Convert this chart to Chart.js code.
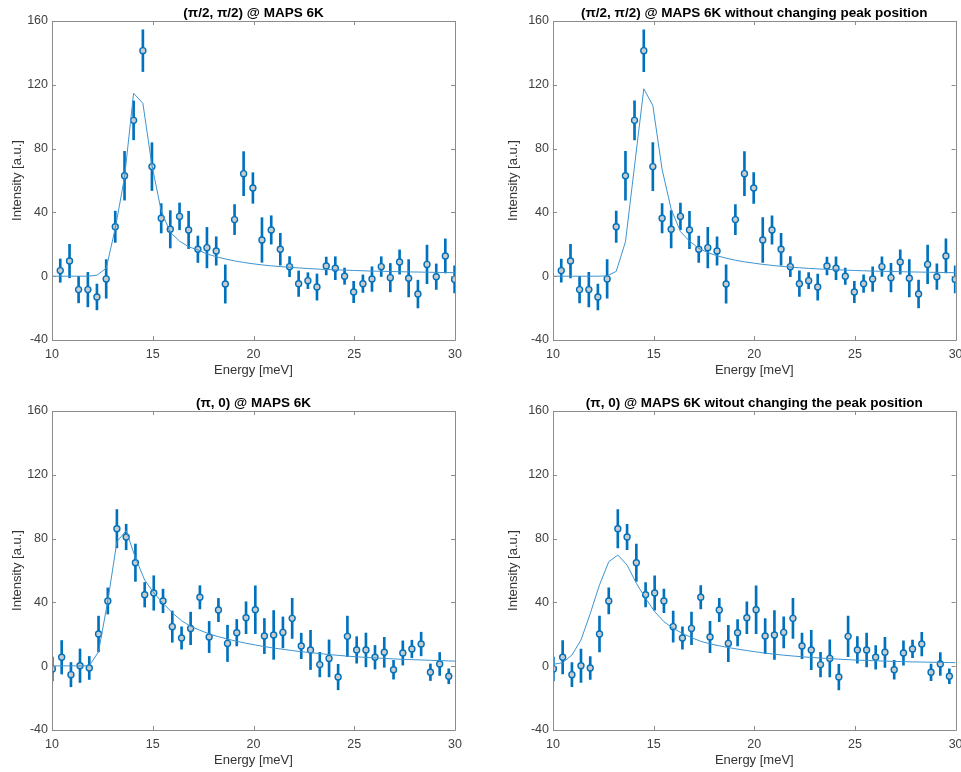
<!DOCTYPE html>
<html>
<head>
<meta charset="utf-8">
<script src="https://cdn.jsdelivr.net/npm/chart.js@4.4.1/dist/chart.umd.min.js"></script>
<style>
  body { margin: 0; background: #fff; width: 961px; height: 772px; position: relative; overflow: hidden; }
  canvas { position: absolute; }
</style>
</head>
<body>
<canvas id="chartA" width="480" height="390" style="left:0px;top:0px"></canvas>
<canvas id="chartB" width="471" height="390" style="left:490px;top:0px"></canvas>
<canvas id="chartC" width="480" height="382" style="left:0px;top:390px"></canvas>
<canvas id="chartD" width="471" height="382" style="left:490px;top:390px"></canvas>
<script>
// measured points, (pi/2, pi/2) cut
const energyTop = [10.41, 10.87, 11.32, 11.78, 12.23, 12.69, 13.14, 13.60, 14.05, 14.51, 14.96, 15.42, 15.87, 16.33, 16.78,
  17.24, 17.69, 18.15, 18.60, 19.06, 19.51, 19.97, 20.42, 20.88, 21.33, 21.79, 22.24, 22.70, 23.15, 23.61, 24.06, 24.52,
  24.97, 25.43, 25.88, 26.34, 26.79, 27.25, 27.70, 28.16, 28.61, 29.07, 29.52, 29.98];
const intensityNodal = [3.5, 9.5, -8.4, -8.4, -13, -1.7, 31, 63, 97.7, 141.4, 68.7, 36.3, 29.4, 37.5, 29,
  16.9, 17.9, 15.8, -4.9, 35.5, 64.3, 55.3, 22.7, 29, 16.9, 6, -4.7, -2.8, -6.8, 6.4, 5, 0,
  -9.9, -4.7, -1.8, 6, -0.9, 8.9, -1.3, -11.2, 7.4, -0.3, 12.7, -2];
const errNodal = [7.3, 10.5, 8.3, 10.8, 8.1, 12.1, 9.8, 15.3, 12.2, 13.1, 15, 9.2, 11.7, 8.4, 11.7,
  8.3, 12.7, 8.9, 12, 9.4, 13.8, 9.6, 14, 8.9, 10, 6.3, 8, 5, 8.2, 5.6, 7.2, 5.1,
  6.7, 5.5, 7.7, 6.2, 8.9, 7.6, 11.7, 8.7, 12.1, 8, 10.7, 8.5];

// measured points, (pi, 0) cut
const energyBottom = [10.02, 10.48, 10.94, 11.39, 11.85, 12.31, 12.77, 13.22, 13.68, 14.14, 14.60, 15.05, 15.51, 15.97, 16.43,
  16.88, 17.34, 17.80, 18.26, 18.71, 19.17, 19.63, 20.09, 20.54, 21.00, 21.46, 21.92, 22.37, 22.83, 23.29, 23.75, 24.20,
  24.66, 25.12, 25.58, 26.03, 26.49, 26.95, 27.41, 27.86, 28.32, 28.78, 29.24, 29.69];
const intensityAntinodal = [-1.8, 5.6, -5.3, 0.3, -1.1, 20.2, 40.9, 86.2, 81, 64.9, 44.8, 45.9, 40.9, 24.8, 17.7,
  23.7, 43.2, 18.3, 35.2, 14.3, 21, 30.4, 35.4, 18.9, 19.6, 21.2, 30, 12.7, 10.2, 1, 4.9, -6.8,
  18.7, 10.2, 10.2, 5.6, 8.7, -2.2, 8.3, 10.8, 13.9, -3.8, 1.4, -6.3];
const errAntinodal = [7.5, 10.5, 7.6, 10.5, 7.2, 11.2, 8.2, 12, 8, 11.7, 7.7, 10.8, 7.4, 9.8, 7,
  10.2, 7.3, 9.8, 7.3, 11.4, 8.3, 10, 15, 11, 15.3, 9.7, 12.6, 8, 12.3, 7.7, 11.6, 8,
  12.7, 8.3, 10.6, 7.4, 9.4, 5.9, 7.6, 5.5, 7.4, 5.2, 7.2, 4.7];

// fitted curves
const fitEnergyTop = [10, 10.41, 10.87, 11.32, 11.78, 12.23, 12.69, 13.14, 13.60, 14.05, 14.51, 14.96, 15.42, 15.87, 16.33, 16.78,
  17.24, 17.69, 18.15, 18.60, 19.06, 19.51, 19.97, 20.42, 20.88, 21.33, 21.79, 22.24, 22.70, 23.15, 23.61, 24.06, 24.52,
  24.97, 25.43, 25.88, 26.34, 26.79, 27.25, 27.70, 28.16, 28.61, 29.07, 29.52, 29.98];
const fitNodal = [0, 0, 0, 0, 0, 0.6, 5, 30, 62, 114.7, 108.4, 69.5, 41, 27.5, 22, 18.5,
  16.4, 14, 12.2, 10.8, 9.6, 8.6, 7.8, 7.1, 6.5, 6, 5.6, 5.2, 4.8, 4.5, 4.2, 4, 3.8,
  3.6, 3.4, 3.2, 3.1, 2.95, 2.8, 2.7, 2.6, 2.5, 2.4, 2.3, 2.2];
const fitNodalFixed = [0, 0, 0, 0, 0, 0, 0.2, 3, 21.6, 69, 117.5, 107, 67, 42, 28, 22,
  17.5, 14.8, 12.8, 11.3, 10, 9, 8.2, 7.4, 6.8, 6.2, 5.7, 5.3, 4.9, 4.6, 4.3, 4, 3.8,
  3.6, 3.4, 3.2, 3.1, 2.95, 2.8, 2.7, 2.6, 2.5, 2.4, 2.3, 2.2];
const fitEnergyBottom = [10.02, 10.48, 10.94, 11.39, 11.85, 12.31, 12.77, 13.22, 13.68, 14.14, 14.60, 15.05, 15.51, 15.97, 16.43,
  16.88, 17.34, 17.80, 18.26, 18.71, 19.17, 19.63, 20.09, 20.54, 21.00, 21.46, 21.92, 22.37, 22.83, 23.29, 23.75, 24.20,
  24.66, 25.12, 25.58, 26.03, 26.49, 26.95, 27.41, 27.86, 28.32, 28.78, 29.24, 29.69, 30];
const fitAntinodal = [0.2, 0.2, 0.2, 0.2, 0.3, 9, 41, 78, 85, 68, 54, 46, 39.5, 33.5, 28.5,
  25, 22.5, 20.3, 18.5, 17, 15.6, 14.4, 13.3, 12.3, 11.4, 10.6, 9.8, 9.1, 8.5, 7.9, 7.3, 6.8,
  6.3, 5.9, 5.5, 5.2, 4.9, 4.6, 4.3, 4.1, 3.9, 3.7, 3.5, 3.3, 3.2];
const fitAntinodalFixed = [1.2, 2.2, 7, 16.4, 33, 51, 65.5, 69.7, 63.4, 52, 42.5, 34.2, 27.9, 23.7, 20.6,
  17.9, 15.6, 14, 12.8, 11.7, 10.7, 9.8, 9, 8.2, 7.5, 6.9, 6.4, 5.9, 5.5, 5.1, 4.8, 4.4,
  4.1, 3.8, 3.6, 3.4, 3.2, 3, 2.85, 2.7, 2.6, 2.5, 2.4, 2.3, 2.2];

const titles = [
  "(π/2, π/2) @ MAPS 6K",
  "(π/2, π/2) @ MAPS 6K without changing peak position",
  "(π, 0) @ MAPS 6K",
  "(π, 0) @ MAPS 6K witout changing the peak position"
];

const FONT = "'Liberation Sans', Arial, Helvetica, sans-serif";
const BLUE = "#0072BD";

// MATLAB style box with inward ticks on all four sides
const boxTicks = {
  id: "boxTicks",
  afterDatasetsDraw(chart) {
    const { ctx, chartArea: a, scales: { x, y } } = chart;
    ctx.save();
    ctx.strokeStyle = "#8c8c8c";
    ctx.lineWidth = 1;
    ctx.beginPath();
    x.ticks.forEach((t) => {
      const px = Math.round(x.getPixelForValue(t.value)) + 0.5;
      ctx.moveTo(px, a.bottom); ctx.lineTo(px, a.bottom - 4);
      ctx.moveTo(px, a.top); ctx.lineTo(px, a.top + 4);
    });
    y.ticks.forEach((t) => {
      const py = Math.round(y.getPixelForValue(t.value)) + 0.5;
      ctx.moveTo(a.left, py); ctx.lineTo(a.left + 4, py);
      ctx.moveTo(a.right, py); ctx.lineTo(a.right - 4, py);
    });
    ctx.rect(Math.round(a.left) + 0.5, Math.round(a.top) + 0.5, Math.round(a.width), Math.round(a.height));
    ctx.stroke();
    ctx.restore();
  },
};

const makePanel = (id, title, energy, values, errs, fitX, fitY, box) => {
  const canvas = document.getElementById(id);
  const w = canvas.width, h = canvas.height;

  new Chart(canvas.getContext("2d"), {
    type: "scatter",
    data: {
      datasets: [
        {
          type: "line",
          data: fitX.map((x, i) => ({ x: x, y: fitY[i] })),
          borderColor: "#3d94d1",
          borderWidth: 1,
          pointRadius: 0,
          tension: 0,
          order: 0,
        },
        {
          type: "scatter",
          data: energy.map((x, i) => ({ x: x, y: values[i] })),
          pointRadius: 3,
          pointBorderWidth: 1.4,
          borderColor: BLUE,
          backgroundColor: "#cccccc",
          order: 1,
        },
        {
          type: "bar",
          data: energy.map((x, i) => ({ x: x, y: [values[i] - errs[i], values[i] + errs[i]] })),
          backgroundColor: BLUE,
          borderWidth: 0,
          barThickness: 2,
          order: 2,
        },
      ],
    },
    options: {
      responsive: false,
      animation: false,
      devicePixelRatio: 1,
      layout: { padding: { left: 0, top: 0, bottom: 0, right: w - box.right } },
      scales: {
        x: {
          type: "linear",
          min: 10,
          max: 30,
          offset: false,
          grid: { display: false, drawTicks: false },
          border: { display: false },
          ticks: { stepSize: 5, padding: 7, color: "#404040", font: { family: FONT, size: 12.5 } },
          title: {
            display: true,
            text: "Energy [meV]",
            color: "#333333",
            font: { family: FONT, size: 13 },
            padding: { top: 0, bottom: h - box.xTitle - 7.8 },
          },
          afterFit: (scale) => {
            scale.height = h - box.bottom;
            scale.paddingLeft = 0;
            scale.paddingRight = 0;
          },
        },
        y: {
          min: -40,
          max: 160,
          grid: { display: false, drawTicks: false },
          border: { display: false },
          ticks: { stepSize: 40, padding: 4, color: "#404040", font: { family: FONT, size: 12.5 } },
          title: {
            display: true,
            text: "Intensity [a.u.]",
            color: "#333333",
            font: { family: FONT, size: 13 },
            padding: { top: box.yTitle - 7.8, bottom: 0 },
          },
          afterFit: (scale) => {
            scale.width = box.left;
            scale.paddingTop = 0;
            scale.paddingBottom = 0;
          },
        },
      },
      plugins: {
        legend: { display: false },
        tooltip: { enabled: false },
        title: {
          display: true,
          text: title,
          fullSize: false,
          color: "#000000",
          font: { family: FONT, size: 13.5, weight: "bold", lineHeight: "16px" },
          padding: { top: 5, bottom: 0 },
        },
      },
    },
    plugins: [boxTicks],
  });
};

const boxLeft = { left: 52, right: 455, bottom: 340, yTitle: 17, xTitle: 370 };
const boxRight = { left: 63, right: 466, bottom: 340, yTitle: 23.3, xTitle: 370 };

makePanel("chartA", titles[0], energyTop, intensityNodal, errNodal, fitEnergyTop, fitNodal, boxLeft);
makePanel("chartB", titles[1], energyTop, intensityNodal, errNodal, fitEnergyTop, fitNodalFixed, boxRight);
makePanel("chartC", titles[2], energyBottom, intensityAntinodal, errAntinodal, fitEnergyBottom, fitAntinodal, boxLeft);
makePanel("chartD", titles[3], energyBottom, intensityAntinodal, errAntinodal, fitEnergyBottom, fitAntinodalFixed, boxRight);
</script>
</body>
</html>
